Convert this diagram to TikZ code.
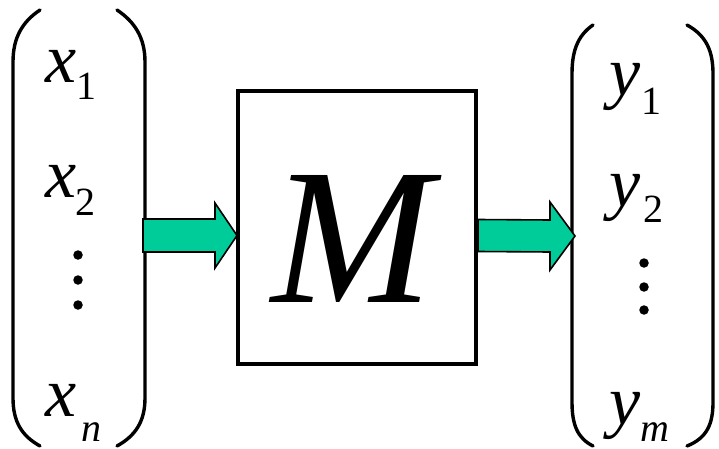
\documentclass[tikz,border=0pt]{standalone}
\usepackage{fontspec}
\setmainfont{Liberation Serif}
\usetikzlibrary{calc}
\definecolor{arrowgreen}{RGB}{0,204,153}
\begin{document}
\begin{tikzpicture}[x=1pt,y=-1pt,
  sym/.style={inner sep=0pt,outer sep=0pt,anchor=base west,font=\fontsize{70}{70}\selectfont\itshape},
  sub/.style={inner sep=0pt,outer sep=0pt,anchor=base west,font=\fontsize{40}{40}\selectfont},
  subi/.style={inner sep=0pt,outer sep=0pt,anchor=base west,font=\fontsize{40}{40}\selectfont\itshape},
  paren/.style={line width=3.4pt,line cap=round},
  fatarrow/.style={fill=arrowgreen,draw=black,line width=1.6pt,line join=miter},
  vdot/.style={circle,fill=black,inner sep=0pt,minimum size=9.5pt},
  frame/.style={draw=black,line width=4pt,inner sep=0pt,outer sep=0pt}]
\useasboundingbox (0,0) rectangle (719,449);
\fill[white] (0,0) rectangle (719,449);
% groups
\node[inner sep=0pt,outer sep=0pt,minimum width=132pt,minimum height=437pt] (vx) at (79,228.5) {};
\node[inner sep=0pt,outer sep=0pt,minimum width=141pt,minimum height=422pt] (vy) at (642.5,236) {};
\node[frame,minimum width=238pt,minimum height=273pt] (M) at (357,227.5) {};
\node[inner sep=0pt,outer sep=0pt,anchor=base,font=\fontsize{194}{194}\selectfont\itshape] (Mtxt) at (352,302) {M};
% left parentheses
\draw[paren] (40,10) .. controls (22,22) and (13,38) .. (13,62) -- (13,398) .. controls (13,422) and (22,436) .. (40,446);
\draw[paren] (117,10) .. controls (135,22) and (145,38) .. (145,62) -- (145,398) .. controls (145,422) and (135,436) .. (117,446);
% right parentheses
\draw[paren] (593,25) .. controls (577,36) and (572,52) .. (572,74) -- (572,402) .. controls (572,424) and (577,438) .. (593,446);
\draw[paren] (687,25) .. controls (707,36) and (713,52) .. (713,74) -- (713,402) .. controls (713,424) and (707,438) .. (687,446);
% x entries
\node[sym] (x1) at (45,83) {x};
\node[sub] (x1s) at (76,100) {1};
\node[sym] (x2) at (45,197) {x};
\node[sub] (x2s) at (75,215) {2};
\node[sym] (xn) at (45,416) {x};
\node[subi] (xns) at (81,441) {n};
\node[vdot] (xd1) at (78,255) {};
\node[vdot] (xd2) at (78,280) {};
\node[vdot] (xd3) at (78,305) {};
% y entries
\node[sym] (y1) at (609,96) {y};
\node[sub] (y1s) at (641,115) {1};
\node[sym] (y2) at (609,206) {y};
\node[sub] (y2s) at (643,222) {2};
\node[sym] (ym) at (609,424) {y};
\node[subi] (yms) at (640,441) {m};
\node[vdot] (yd1) at (644,263) {};
\node[vdot] (yd2) at (644,287) {};
\node[vdot] (yd3) at (644,310) {};
% arrows
\coordinate (la) at ($(vx.east)+(-2,7)$);
\coordinate (lb) at ($(M.west)+(-1,8)$);
\draw[fatarrow] ($(la)+(0,-16.5)$) -- ($(lb)+(-22,-16.5)$) -- ($(lb)+(-22,-32.5)$) -- (lb) -- ($(lb)+(-22,32.5)$) -- ($(lb)+(-22,16.5)$) -- ($(la)+(0,16.5)$) -- cycle;
\coordinate (ra) at ($(M.east)+(2,8)$);
\coordinate (rb) at ($(vy.west)+(3,0)$);
\draw[fatarrow] ($(ra)+(0,-16)$) -- ($(rb)+(-25,-16)$) -- ($(rb)+(-25,-34)$) -- (rb) -- ($(rb)+(-25,34)$) -- ($(rb)+(-25,16)$) -- ($(ra)+(0,16)$) -- cycle;
\end{tikzpicture}
\end{document}
